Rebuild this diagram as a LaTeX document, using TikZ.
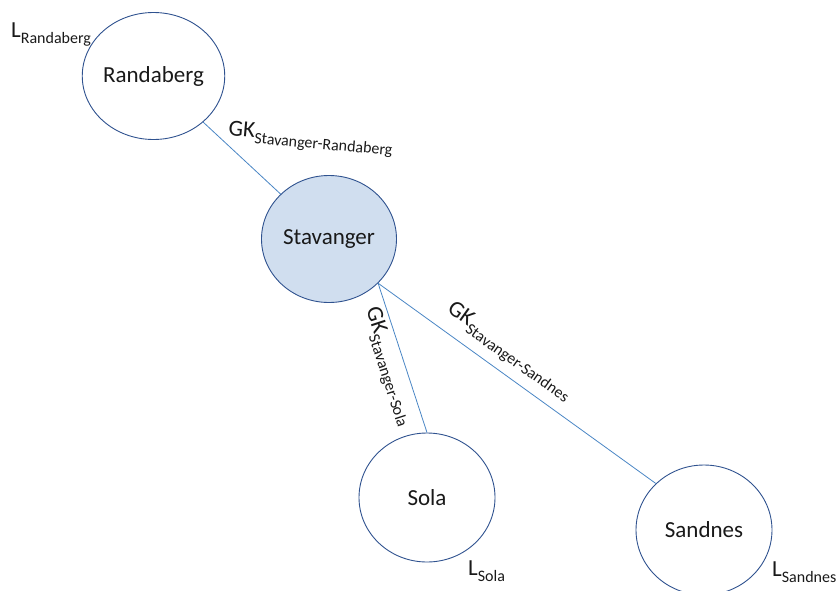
\documentclass[tikz,border=0pt]{standalone}
\usepackage{fontspec}
\setmainfont{Carlito}
\usetikzlibrary{shapes.geometric}
\definecolor{ringc}{HTML}{2F528F}
\definecolor{fillc}{HTML}{D0DEEF}
\definecolor{linkc}{HTML}{4A86C5}
\newcommand\sublab[2]{#1\raisebox{-6pt}{\fontsize{16}{19}\selectfont #2}}
\tikzset{
  town/.style={ellipse, draw=ringc, line width=0.9pt, minimum width=135pt, minimum height=127pt, inner sep=0pt, font=\fontsize{23}{27}\selectfont, text=black!90},
  link/.style={draw=linkc, line width=0.8pt},
  lbl/.style={inner sep=0pt, font=\fontsize{23}{27}\selectfont, text=black!90}
}
\begin{document}
\begin{tikzpicture}[x=1pt,y=-1pt]
\useasboundingbox (0,0) rectangle (836,590);
\node[town] (rand) at (153.5,76) {Randaberg};
\node[town, fill=fillc] (stav) at (329,239) {Stavanger};
\node[town, minimum width=136pt, minimum height=129pt] (sola) at (427,497.5) {Sola};
\node[town, minimum width=136pt, minimum height=130pt] (sand) at (704,530) {Sandnes};
\draw[link] (rand) -- (stav);
\draw[link] (stav.-42) -- (sola.north);
\draw[link] (stav.-42) -- (sand.136);
\node[lbl, anchor=base west] (lr) at (11,37) {\sublab{L}{Randaberg}};
\node[lbl, anchor=base west, rotate=-5] (gkr) at (228,135) {\sublab{GK}{Stavanger-Randaberg}};
\node[lbl, rotate=-72] (gks) at (388,367) {\sublab{GK}{Stavanger-Sola}};
\node[lbl, rotate=-35.5] (gksa) at (509,352) {\sublab{GK}{Stavanger-Sandnes}};
\node[lbl, anchor=base west] (ls) at (468,575) {\sublab{L}{Sola}};
\node[lbl, anchor=base west] (lsa) at (772,576) {\sublab{L}{Sandnes}};
\end{tikzpicture}
\end{document}
